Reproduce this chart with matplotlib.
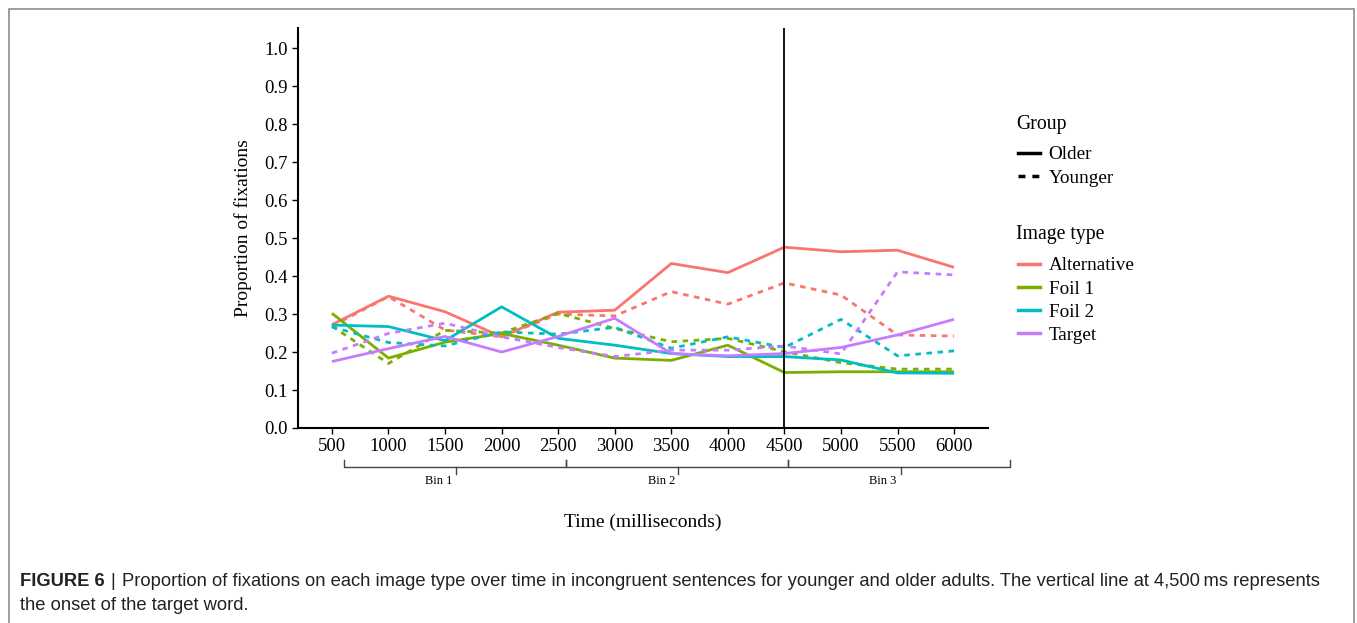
import matplotlib.pyplot as plt
import matplotlib.patches as mpatches
from matplotlib.lines import Line2D
import numpy as np

# time bins (ms)
times = [500, 1000, 1500, 2000, 2500, 3000, 3500, 4000, 4500, 5000, 5500, 6000]

alt_old = [0.272, 0.347, 0.306, 0.240, 0.305, 0.310, 0.433, 0.409, 0.476, 0.464, 0.468, 0.423]
alt_young = [0.268, 0.346, 0.258, 0.240, 0.300, 0.295, 0.359, 0.326, 0.382, 0.350, 0.245, 0.242]
foil1_old = [0.302, 0.184, 0.226, 0.249, 0.218, 0.184, 0.178, 0.218, 0.146, 0.148, 0.148, 0.148]
foil1_young = [0.268, 0.170, 0.257, 0.250, 0.302, 0.262, 0.227, 0.236, 0.201, 0.172, 0.155, 0.155]
foil2_old = [0.271, 0.267, 0.230, 0.319, 0.236, 0.218, 0.196, 0.188, 0.188, 0.179, 0.145, 0.144]
foil2_young = [0.266, 0.225, 0.216, 0.253, 0.247, 0.265, 0.210, 0.240, 0.212, 0.286, 0.190, 0.203]
target_old = [0.175, 0.209, 0.241, 0.200, 0.241, 0.289, 0.196, 0.190, 0.196, 0.212, 0.245, 0.286]
target_young = [0.197, 0.249, 0.276, 0.240, 0.212, 0.188, 0.205, 0.205, 0.216, 0.195, 0.411, 0.403]

image_types = ['Alternative', 'Foil 1', 'Foil 2', 'Target']
colors = ['#F8766D', '#7CAE00', '#00BFC4', '#C77CFF']
older = [alt_old, foil1_old, foil2_old, target_old]
younger = [alt_young, foil1_young, foil2_young, target_young]

onset = 4500
bin_edges = [606, 2571, 4535, 6491]
bin_ticks = [1597, 3562, 5527]
bin_label_x = [1447, 3412, 5367]
bin_labels = ['Bin 1', 'Bin 2', 'Bin 3']

plt.rcParams['font.family'] = ['Liberation Serif', 'DejaVu Serif']

W, H = 1357, 623
fig = plt.figure(figsize=(W / 100, H / 100), dpi=100)
ax = fig.add_axes([298/W, 1 - 428/H, 690/W, 400/H])

lw = 2.0
for i in range(len(image_types)):
    ax.plot(times, older[i], color=colors[i], lw=lw, solid_capstyle='butt')
    ax.plot(times, younger[i], color=colors[i], lw=lw, dashes=(2, 2))

ax.axvline(onset, color='black', lw=1.3)

ax.set_xlim(200, 6300)
ax.set_ylim(0, 1.053)
ax.set_xticks(times)
ax.set_xticklabels([str(t) for t in times])
ax.set_yticks(np.arange(0, 1.01, 0.1))
ax.set_yticklabels(['%.1f' % v for v in np.arange(0, 1.01, 0.1)])
ax.tick_params(labelsize=13.5, length=4, width=1, colors='black')
for s in ['top', 'right']:
    ax.spines[s].set_visible(False)
for s in ['left', 'bottom']:
    ax.spines[s].set_linewidth(1.5)

ax.set_ylabel('Proportion of fixations', fontsize=14, labelpad=9)
ax.set_xlabel('Time (milliseconds)', fontsize=14, labelpad=42)

# bin brackets under the x axis
trans = ax.get_xaxis_transform()
y_hook, y_line, y_tick, y_lab = -0.08, -0.0975, -0.115, -0.118
for i in range(3):
    x0, x1 = bin_edges[i], bin_edges[i + 1]
    ax.plot([x0, x0, x1, x1], [y_hook, y_line, y_line, y_hook], color='#444444',
            lw=1, transform=trans, clip_on=False)
    ax.plot([bin_ticks[i], bin_ticks[i]], [y_line, y_tick], color='#444444',
            lw=1, transform=trans, clip_on=False)
    ax.text(bin_label_x[i], y_lab, bin_labels[i], transform=trans, ha='center',
            va='top', fontsize=9)

# legends, titles drawn as separate text
leg_kw = dict(loc='upper left', frameon=False, fontsize=13.8, handlelength=1.15,
              handletextpad=0.45, labelspacing=0.3, borderpad=0, borderaxespad=0)
fig.text(1016/W, 1 - 124/H, 'Group', fontsize=14.2, va='center', ha='left')
group_handles = [Line2D([], [], color='black', lw=2.5),
                 Line2D([], [], color='black', lw=2.5, dashes=(2, 2))]
fig.legend(group_handles, ['Older', 'Younger'],
           bbox_to_anchor=(1018/W, 1 - 146/H), **leg_kw)

fig.text(1016/W, 1 - 235/H, 'Image type', fontsize=14.2, va='center', ha='left')
type_handles = [Line2D([], [], color=c, lw=2.5) for c in colors]
fig.legend(type_handles, image_types,
           bbox_to_anchor=(1018/W, 1 - 257/H), **leg_kw)

# caption
cap_font = ['Liberation Sans', 'DejaVu Sans']
cap_size = 13.2
fig.text(20/W, 1 - 582/H, 'FIGURE 6', family=cap_font, fontsize=cap_size,
         fontweight='bold', color='#222222', va='center')
fig.text(110/W, 1 - 582/H, '|', family=cap_font, fontsize=cap_size,
         color='#222222', va='center')
fig.text(122/W, 1 - 582/H,
         'Proportion of fixations on each image type over time in incongruent '
         'sentences for younger and older adults. The vertical line at 4,500\u2009ms represents',
         family=cap_font, fontsize=cap_size, color='#222222', va='center')
fig.text(20/W, 1 - 605/H, 'the onset of the target word.', family=cap_font,
         fontsize=cap_size, color='#222222', va='center')

# frame around the figure panel
frame = mpatches.Rectangle((9/W, -0.05), 1345/W, 1.05 - 9/H,
                           transform=fig.transFigure, fill=False,
                           edgecolor='#8c8c8c', lw=1.2)
fig.patches.append(frame)

fig.savefig('out.png', dpi=100)
